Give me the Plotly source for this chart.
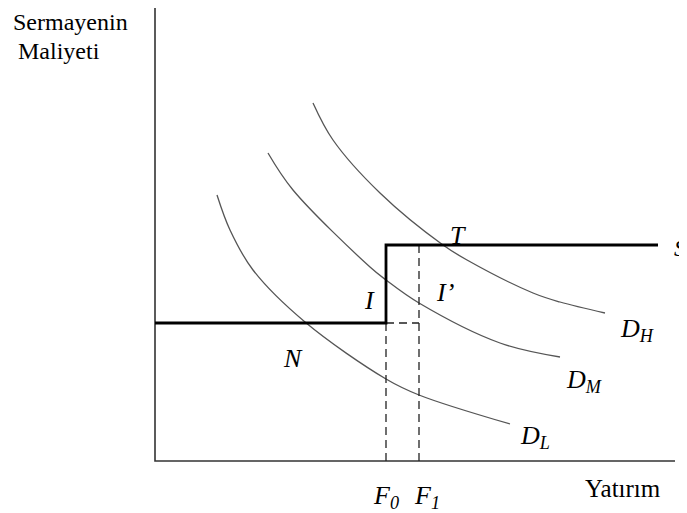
import plotly.graph_objects as go

# Coordinates in diagram units (origin at the axes corner)
axis_x = [0, 0, 520]
axis_y = [455, 0, 0]

supply_x = [0, 231, 231, 503]
supply_y = [138, 138, 216, 216]

dash_f0_x = [231, 231]
dash_f0_y = [0, 138]
dash_f1_x = [264, 264]
dash_f1_y = [0, 216]
dash_h_x = [231, 264]
dash_h_y = [138, 138]

dl_x = [62, 75, 98, 150, 231, 264, 355]
dl_y = [266, 231, 191, 139, 82, 66, 37]
dm_x = [113, 138, 215, 231, 264, 345, 405]
dm_y = [308, 271, 194, 181, 158, 118, 104]
dh_x = [158, 178, 225, 288, 312, 378, 405, 450]
dh_y = [358, 321, 268, 216, 201, 168, 159, 148]

labels = [
    ("<i>T</i>", 303, 226),
    ("<i>I</i>", 214, 161),
    ("<i>I’</i>", 290, 169),
    ("<i>N</i>", 138, 103),
    ("<i>D<sub>H</sub></i>", 482, 131),
    ("<i>D<sub>M</sub></i>", 429, 80),
    ("<i>D<sub>L</sub></i>", 380, 24),
    ("<i>F<sub>0</sub></i>", 231, -36),
    ("<i>F<sub>1</sub></i>", 272, -36),
]

SERIF = "Liberation Serif, Times New Roman, Times, serif"

fig = go.Figure()
fig.add_trace(go.Scatter(x=axis_x, y=axis_y, mode="lines",
                         line=dict(color="#333333", width=1.6), hoverinfo="skip"))
for xs, ys in [(dl_x, dl_y), (dm_x, dm_y), (dh_x, dh_y)]:
    fig.add_trace(go.Scatter(x=xs, y=ys, mode="lines",
                             line=dict(color="#555555", width=1.3, shape="spline"),
                             hoverinfo="skip"))
for xs, ys in [(dash_f0_x, dash_f0_y), (dash_f1_x, dash_f1_y), (dash_h_x, dash_h_y)]:
    fig.add_trace(go.Scatter(x=xs, y=ys, mode="lines",
                             line=dict(color="#222222", width=1.3, dash="8px,5px"),
                             hoverinfo="skip"))
fig.add_trace(go.Scatter(x=supply_x, y=supply_y, mode="lines",
                         line=dict(color="#000000", width=2.8), hoverinfo="skip"))

font_it = dict(family=SERIF, size=26, color="black")
for txt, x, y in labels:
    fig.add_annotation(x=x, y=y, text=txt, showarrow=False, font=font_it,
                       xanchor="center", yanchor="middle")

font_n = dict(family=SERIF, size=24, color="black")
fig.add_annotation(x=-143, y=453, text="Sermayenin", showarrow=False, font=font_n,
                   xanchor="left", yanchor="top", borderpad=0)
fig.add_annotation(x=-138, y=424, text="Maliyeti", showarrow=False, font=font_n,
                   xanchor="left", yanchor="top", borderpad=0)
fig.add_annotation(x=468, y=-27, text="Yatırım", showarrow=False,
                   font=dict(family=SERIF, size=25, color="black"),
                   xanchor="center", yanchor="middle")
fig.add_annotation(x=517, y=213, text="<i>S</i>", showarrow=False,
                   font=dict(family=SERIF, size=24, color="black"),
                   xanchor="left", yanchor="middle")

# page body has an 8px margin: shrink the figure and shift ranges to compensate
fig.update_layout(
    width=679, height=505,
    margin=dict(l=0, r=0, t=0, b=0),
    paper_bgcolor="white", plot_bgcolor="white",
    showlegend=False,
    xaxis=dict(range=[-147, 532], visible=False, fixedrange=True),
    yaxis=dict(range=[-52, 453], visible=False, fixedrange=True),
)
fig.write_html("out.html")
